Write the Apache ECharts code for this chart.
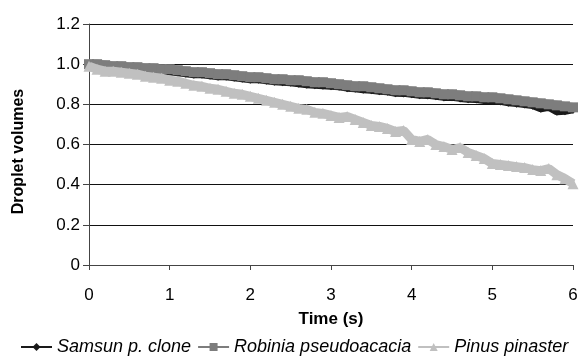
<!DOCTYPE html>
<html>
<head>
<meta charset="utf-8">
<script src="https://cdn.jsdelivr.net/npm/echarts@6/dist/echarts.min.js"></script>
<style>
  html, body { margin: 0; padding: 0; background: #fff; overflow: hidden; }
  #chart { width: 582px; height: 358px; }
</style>
</head>
<body>
<div id="chart"></div>
<script>
// time in seconds (0.1 s steps)
const times = [0.0, 0.1, 0.2, 0.3, 0.4, 0.5, 0.6, 0.7, 0.8, 0.9,
  1.0, 1.1, 1.2, 1.3, 1.4, 1.5, 1.6, 1.7, 1.8, 1.9,
  2.0, 2.1, 2.2, 2.3, 2.4, 2.5, 2.6, 2.7, 2.8, 2.9,
  3.0, 3.1, 3.2, 3.3, 3.4, 3.5, 3.6, 3.7, 3.8, 3.9,
  4.0, 4.1, 4.2, 4.3, 4.4, 4.5, 4.6, 4.7, 4.8, 4.9,
  5.0, 5.1, 5.2, 5.3, 5.4, 5.5, 5.6, 5.7, 5.8, 5.9, 6.0];

const samsun = [0.99, 0.99, 0.985, 0.98, 0.98, 0.975, 0.975, 0.97, 0.97, 0.965,
  0.965, 0.96, 0.955, 0.95, 0.95, 0.945, 0.94, 0.94, 0.935, 0.93,
  0.925, 0.925, 0.92, 0.915, 0.912, 0.91, 0.905, 0.9, 0.897, 0.895,
  0.893, 0.89, 0.883, 0.88, 0.875, 0.873, 0.868, 0.865, 0.858, 0.857,
  0.853, 0.848, 0.847, 0.843, 0.837, 0.838, 0.832, 0.828, 0.827, 0.822,
  0.82, 0.817, 0.81, 0.806, 0.802, 0.796, 0.78, 0.788, 0.765, 0.768, 0.775];

const robinia = [1.0, 1.0, 0.995, 0.99, 0.99, 0.985, 0.985, 0.98, 0.98, 0.975,
  0.975, 0.97, 0.965, 0.96, 0.96, 0.955, 0.95, 0.95, 0.945, 0.94,
  0.935, 0.935, 0.93, 0.925, 0.925, 0.92, 0.92, 0.915, 0.91, 0.91,
  0.905, 0.90, 0.895, 0.89, 0.89, 0.885, 0.88, 0.875, 0.87, 0.87,
  0.865, 0.86, 0.86, 0.855, 0.85, 0.85, 0.845, 0.84, 0.84, 0.835,
  0.835, 0.83, 0.825, 0.82, 0.815, 0.81, 0.805, 0.80, 0.795, 0.79, 0.785];

const pinus = [0.99, 0.975, 0.965, 0.965, 0.96, 0.955, 0.95, 0.94, 0.935, 0.93,
  0.92, 0.915, 0.905, 0.895, 0.89, 0.88, 0.875, 0.865, 0.855, 0.85,
  0.84, 0.83, 0.82, 0.81, 0.80, 0.79, 0.78, 0.775, 0.76, 0.755,
  0.745, 0.735, 0.74, 0.725, 0.71, 0.695, 0.69, 0.68, 0.665, 0.67,
  0.625, 0.615, 0.625, 0.60, 0.59, 0.575, 0.585, 0.56, 0.545, 0.53,
  0.505, 0.50, 0.495, 0.49, 0.485, 0.475, 0.47, 0.48, 0.45, 0.43, 0.405];

const seriesNames = ['Samsun p. clone', 'Robinia pseudoacacia', 'Pinus pinaster'];

const font = '"Liberation Sans", Arial, sans-serif';

function pairs(ys) {
  return times.map((t, i) => [t, ys[i]]);
}

const chart = echarts.init(document.getElementById('chart'));

chart.setOption({
  animation: false,
  textStyle: { fontFamily: font },
  grid: { left: 89, right: 9, top: 24, bottom: 93 },
  legend: {
    left: 15,
    top: 333,
    width: 900,
    itemWidth: 31,
    itemHeight: 10,
    itemGap: 6,
    data: seriesNames,
    lineStyle: { width: 2 },
    textStyle: { fontFamily: font, fontSize: 18, fontStyle: 'italic', color: '#000' }
  },
  xAxis: {
    type: 'value',
    min: 0,
    max: 6,
    interval: 1,
    name: 'Time (s)',
    nameLocation: 'middle',
    nameGap: 46,
    nameTextStyle: { fontFamily: font, fontSize: 17, fontWeight: 'bold', color: '#000' },
    axisLine: { lineStyle: { color: '#444', width: 1 } },
    axisTick: { show: true, length: 5, lineStyle: { color: '#444' } },
    axisLabel: { fontFamily: font, fontSize: 17, color: '#000', margin: 22 },
    splitLine: { show: false }
  },
  yAxis: {
    type: 'value',
    min: 0,
    max: 1.2,
    interval: 0.2,
    name: 'Droplet volumes',
    nameLocation: 'middle',
    nameGap: 62,
    nameTextStyle: { fontFamily: font, fontSize: 16, fontWeight: 'bold', color: '#000', padding: [0, 14, 0, 0] },
    axisLine: { show: true, lineStyle: { color: '#444', width: 1 } },
    axisTick: { show: true, length: 6, lineStyle: { color: '#444' } },
    axisLabel: {
      fontFamily: font, fontSize: 17, color: '#000', margin: 9,
      formatter: v => v === 0 ? '0' : v.toFixed(1)
    },
    splitLine: { show: true, lineStyle: { color: '#111', width: 1 } }
  },
  series: [
    {
      name: seriesNames[0],
      type: 'line',
      data: pairs(samsun),
      symbol: 'diamond',
      symbolSize: 9,
      itemStyle: { color: '#1a1a1a' },
      lineStyle: { color: '#1a1a1a', width: 8 },
      z: 2
    },
    {
      name: seriesNames[1],
      type: 'line',
      data: pairs(robinia),
      symbol: 'rect',
      symbolSize: 10,
      itemStyle: { color: '#7d7d7d' },
      lineStyle: { color: '#7d7d7d', width: 9 },
      z: 3
    },
    {
      name: seriesNames[2],
      type: 'line',
      data: pairs(pinus),
      symbol: 'triangle',
      symbolSize: 11,
      itemStyle: { color: '#c0c0c0' },
      lineStyle: { color: '#c0c0c0', width: 9 },
      z: 4
    }
  ]
});
</script>
</body>
</html>
